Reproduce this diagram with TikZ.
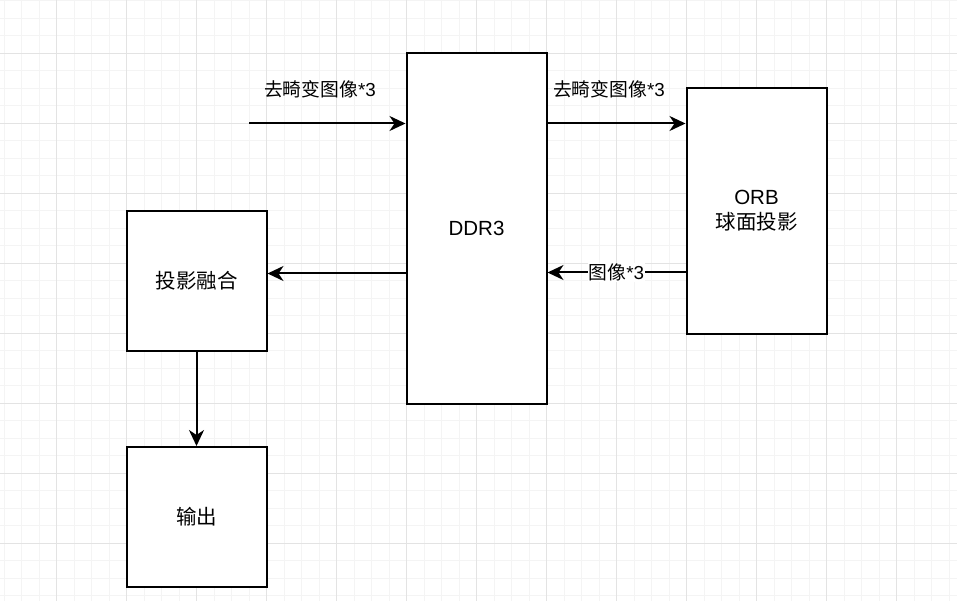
\documentclass[tikz,border=0pt]{standalone}
\usepackage{fontspec}
\setmainfont{Liberation Sans}
\newfontfamily\cjk{Noto Sans CJK SC}
\usetikzlibrary{arrows.meta}
\definecolor{gridminor}{HTML}{F4F4F4}
\definecolor{gridmajor}{HTML}{E3E3E3}
\tikzset{
  x=1pt, y=-1pt,
  blk/.style={draw=black, line width=2pt, fill=white, inner sep=0pt,
    font=\fontsize{20.5}{25}\selectfont, align=center},
  conn/.style={line width=2pt, -{Stealth[length=16pt,width=15pt,inset=5pt]}},
  lbl/.style={inner sep=1pt, font=\fontsize{18.8}{22}\selectfont},
  minorline/.style={draw=gridminor, line width=0.8pt},
  majorline/.style={draw=gridmajor, line width=0.9pt}
}
\begin{document}
\begin{tikzpicture}
\useasboundingbox (0,0) rectangle (957,601);
\fill[white] (0,0) rectangle (957,601);
% grid
\foreach \i in {0,...,54} {\draw[minorline] ({4.2+17.5*\i},0) -- ({4.2+17.5*\i},601);}
\foreach \i in {0,...,34} {\draw[minorline] (0,{0.8+17.5*\i}) -- (957,{0.8+17.5*\i});}
\foreach \i in {0,...,13} {\draw[majorline] ({56.7+70*\i-70},0) -- ({56.7+70*\i-70},601);}
\foreach \i in {0,...,9} {\draw[majorline] (0,{53.3+70*\i-70}) -- (957,{53.3+70*\i-70});}
% blocks
\node[blk, minimum width=140pt, minimum height=350pt] (ddr) at (476.5,228.5) {DDR3};
\node[blk, minimum width=140pt, minimum height=245pt] (orb) at (756.5,211) {ORB\\{\cjk 球面投影}};
\node[blk, minimum width=140pt, minimum height=140pt] (fuse) at (196.5,281) {\cjk 投影融合};
\node[blk, minimum width=140pt, minimum height=140pt] (out) at (196.5,517) {\cjk 输出};
% connectors
\coordinate (src) at (249,123.5);
\draw[conn] (src) -- (src -| ddr.west);
\draw[conn] (ddr.east |- 0,123.5) -- (orb.west |- 0,123.5);
\draw[conn] (orb.west |- 0,272.5) -- (ddr.east |- 0,272.5)
  node[lbl, pos=0.5, fill=white] (lb3) {{\cjk 图像}*3};
\draw[conn] (ddr.west |- 0,273.5) -- (fuse.east |- 0,273.5);
\draw[conn] (fuse.south) -- (out.north);
% labels
\node[lbl] (lb1) at (320,89) {{\cjk 去畸变图像}*3};
\node[lbl] (lb2) at (609,89) {{\cjk 去畸变图像}*3};
\end{tikzpicture}
\end{document}
